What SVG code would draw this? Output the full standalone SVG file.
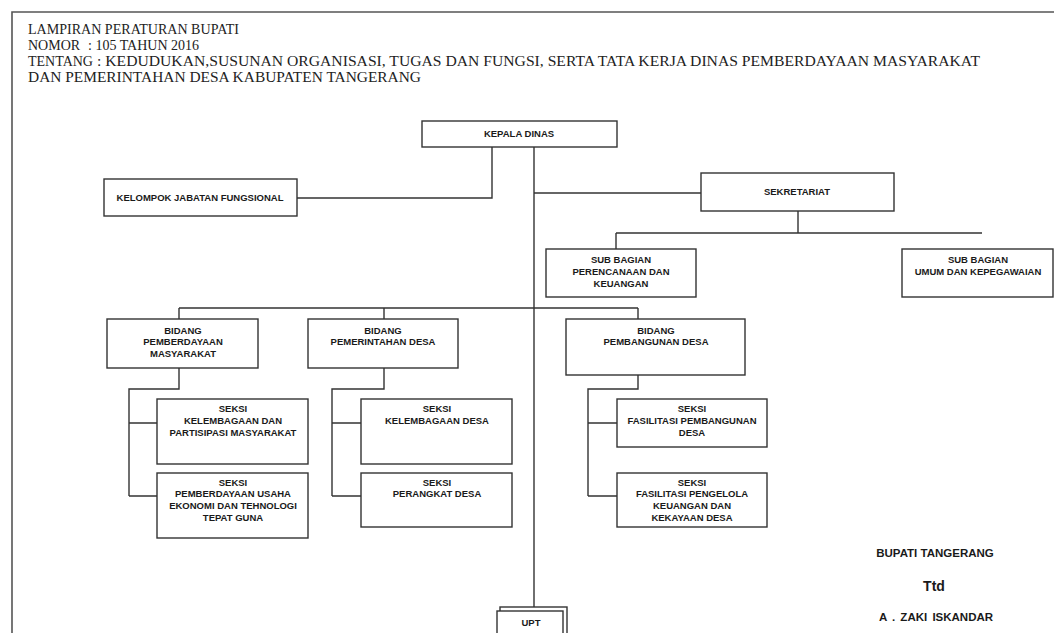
<svg xmlns="http://www.w3.org/2000/svg" width="1054" height="633" viewBox="0 0 1054 633">
<style>
.hdr{font-family:"Liberation Serif","Times New Roman",serif;font-size:14px;fill:#222}
.box{fill:#fff;stroke:#333;stroke-width:1.4}
.t{font-family:"Liberation Sans",Arial,sans-serif;font-size:9.5px;font-weight:bold;fill:#1a1a1a;text-anchor:middle}
.sig{font-family:"Liberation Sans",Arial,sans-serif;font-weight:bold;fill:#1a1a1a;text-anchor:middle}
.ln{fill:none;stroke:#333;stroke-width:1.4}
.frame{fill:none;stroke:#555;stroke-width:1.6}
</style>
<rect width="1054" height="633" fill="#fff"/>
<path class="frame" d="M12,633 V12 H1054"/>
<g id="header">
<text class="hdr" x="28" y="34" textLength="211" lengthAdjust="spacingAndGlyphs">LAMPIRAN PERATURAN BUPATI</text>
<text class="hdr" x="28" y="50">NOMOR</text>
<text class="hdr" x="88" y="50">: 105 TAHUN 2016</text>
<text class="hdr" x="28" y="66">TENTANG</text>
<text class="hdr" x="97" y="66" textLength="883" lengthAdjust="spacingAndGlyphs">: KEDUDUKAN,SUSUNAN ORGANISASI, TUGAS DAN FUNGSI, SERTA TATA KERJA DINAS PEMBERDAYAAN MASYARAKAT</text>
<text class="hdr" x="28" y="82" textLength="393" lengthAdjust="spacingAndGlyphs">DAN PEMERINTAHAN DESA KABUPATEN TANGERANG</text>
</g>
<g id="connectors">
<path class="ln" d="M492,147 V198 H297"/>
<path class="ln" d="M534,147 V607"/>
<path class="ln" d="M534,193 H701"/>
<path class="ln" d="M798,211 V233 M616,233 H982 M616,233 V249"/>
<path class="ln" d="M179,308 H638 M179,308 V319 M384,308 V319 M638,308 V319"/>
<path class="ln" d="M179,368 V389 H129 V496 M129,423 H157 M129,496 H157"/>
<path class="ln" d="M384,368 V389 H332 V496 M332,423 H361 M332,496 H361"/>
<path class="ln" d="M638,375 V389 H588 V496 M588,423 H617 M588,496 H617"/>
</g>
<g id="kepala-dinas"><rect class="box" x="422" y="121" width="195" height="26"/><text class="t" x="519" y="137">KEPALA DINAS</text></g>
<g id="kelompok"><rect class="box" x="104" y="179" width="193" height="37"/><text class="t" x="200" y="201">KELOMPOK JABATAN FUNGSIONAL</text></g>
<g id="sekretariat"><rect class="box" x="701" y="173" width="193" height="38"/><text class="t" x="797" y="195">SEKRETARIAT</text></g>
<g id="sub-perencanaan"><rect class="box" x="546" y="249" width="150" height="48"/><text class="t" x="621" y="262.5">SUB BAGIAN</text><text class="t" x="621" y="274.5">PERENCANAAN DAN</text><text class="t" x="621" y="286.5">KEUANGAN</text></g>
<g id="sub-umum"><rect class="box" x="902" y="249" width="151" height="48"/><text class="t" x="978" y="262.5">SUB BAGIAN</text><text class="t" x="978" y="274.5">UMUM DAN KEPEGAWAIAN</text></g>
<g id="bidang-pm"><rect class="box" x="107" y="319" width="151" height="49"/><text class="t" x="183" y="333.5">BIDANG</text><text class="t" x="183" y="345">PEMBERDAYAAN</text><text class="t" x="183" y="356.5">MASYARAKAT</text></g>
<g id="bidang-pd"><rect class="box" x="308" y="319" width="150" height="49"/><text class="t" x="383" y="333.5">BIDANG</text><text class="t" x="383" y="345">PEMERINTAHAN DESA</text></g>
<g id="bidang-pb"><rect class="box" x="566" y="319" width="179" height="56"/><text class="t" x="656" y="333.5">BIDANG</text><text class="t" x="656" y="345">PEMBANGUNAN DESA</text></g>
<g id="seksi-kpm"><rect class="box" x="157" y="399" width="151" height="65"/><text class="t" x="233" y="411.5">SEKSI</text><text class="t" x="233" y="423.5">KELEMBAGAAN DAN</text><text class="t" x="233" y="435.5">PARTISIPASI MASYARAKAT</text></g>
<g id="seksi-pue"><rect class="box" x="157" y="473" width="151" height="65"/><text class="t" x="233" y="485.5">SEKSI</text><text class="t" x="233" y="497">PEMBERDAYAAN USAHA</text><text class="t" x="233" y="508.5">EKONOMI DAN TEHNOLOGI</text><text class="t" x="233" y="520.5">TEPAT GUNA</text></g>
<g id="seksi-kd"><rect class="box" x="361" y="399" width="151" height="65"/><text class="t" x="437" y="411.5">SEKSI</text><text class="t" x="437" y="423.5">KELEMBAGAAN DESA</text></g>
<g id="seksi-perangkat"><rect class="box" x="361" y="473" width="151" height="54"/><text class="t" x="437" y="485.5">SEKSI</text><text class="t" x="437" y="497">PERANGKAT DESA</text></g>
<g id="seksi-fpd"><rect class="box" x="617" y="399" width="150" height="48"/><text class="t" x="692" y="411.5">SEKSI</text><text class="t" x="692" y="423.5">FASILITASI PEMBANGUNAN</text><text class="t" x="692" y="435.5">DESA</text></g>
<g id="seksi-fpk"><rect class="box" x="617" y="473" width="150" height="54"/><text class="t" x="692" y="485.5">SEKSI</text><text class="t" x="692" y="497">FASILITASI PENGELOLA</text><text class="t" x="692" y="508.5">KEUANGAN DAN</text><text class="t" x="692" y="520.5">KEKAYAAN DESA</text></g>
<g id="upt"><rect class="box" x="500" y="607" width="67" height="32"/><rect class="box" x="497" y="611" width="66" height="30"/><text class="t" x="531" y="626">UPT</text></g>
<g id="signature">
<text class="sig" x="935" y="557" font-size="11.5">BUPATI TANGERANG</text>
<text class="sig" x="934" y="591" font-size="14">Ttd</text>
<text class="sig" x="936" y="621" font-size="11.5" word-spacing="2">A . ZAKI ISKANDAR</text>
</g>
</svg>
